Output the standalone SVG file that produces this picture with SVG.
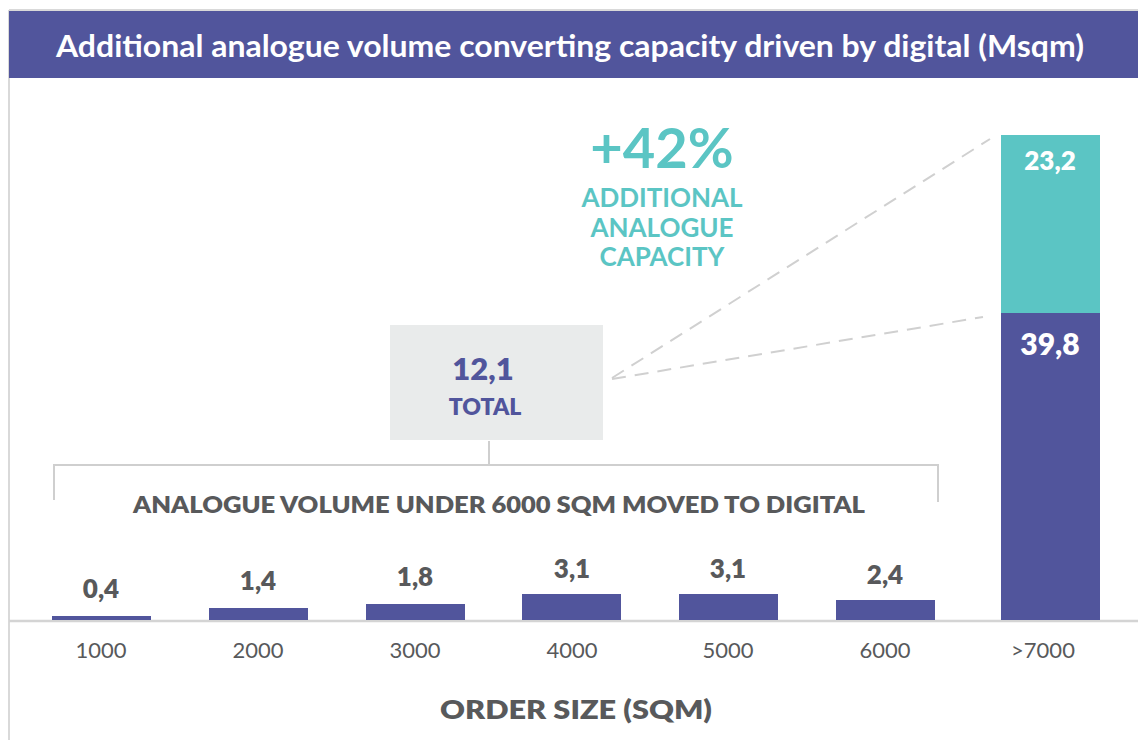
<svg xmlns="http://www.w3.org/2000/svg" width="1138" height="740" viewBox="0 0 1138 740">
<style>
.lbl{font-family:"Lato","Liberation Sans",sans-serif;font-weight:800;fill:#58595b;text-anchor:middle}
.tick{font-family:"Lato","Liberation Sans",sans-serif;font-weight:400;fill:#58595b;text-anchor:middle;font-size:22px}
.teal{font-family:"Lato","Liberation Sans",sans-serif;font-weight:700;fill:#5bc5c4;text-anchor:middle}
.pur{font-family:"Lato","Liberation Sans",sans-serif;font-weight:800;fill:#51559c;text-anchor:middle}
.wht{font-family:"Lato","Liberation Sans",sans-serif;font-weight:800;fill:#ffffff;text-anchor:middle}
.bar{fill:#51559c}
.guide{stroke:#cfcfcf;stroke-width:2;fill:none}
.dash{stroke:#d0d0d0;stroke-width:2;fill:none;stroke-dasharray:14 9}
</style>
<rect x="0" y="0" width="1138" height="740" fill="#ffffff"/>
<line x1="9" y1="10" x2="1138" y2="10" stroke="#d9d9d9" stroke-width="2"/>
<line x1="9" y1="10" x2="9" y2="740" stroke="#d9d9d9" stroke-width="2"/>
<g id="header">
<rect x="9" y="11" width="1129" height="67" fill="#51559c"/>
<text x="570" y="57" font-family="Lato,'Liberation Sans',sans-serif" font-weight="700" font-size="31" fill="#ffffff" text-anchor="middle" textLength="1028" lengthAdjust="spacingAndGlyphs">Additional analogue volume converting capacity driven by digital (Msqm)</text>
</g>
<g id="axis">
<line x1="9" y1="621" x2="1138" y2="621" stroke="#d4d4d4" stroke-width="2.5"/>
</g>
<g id="connectors">
<line class="dash" x1="612" y1="378" x2="990" y2="139"/>
<line class="dash" x1="612" y1="379" x2="983" y2="317"/>
<path class="guide" d="M54 500 V465 H938 V502"/>
<line class="guide" x1="489" y1="441" x2="489" y2="465"/>
</g>
<g id="bar-1000">
<rect class="bar" x="52" y="616" width="99" height="4"/>
<text class="lbl" x="101" y="598" font-size="26">0,4</text>
<text class="tick" x="101" y="658">1000</text>
</g>
<g id="bar-2000">
<rect class="bar" x="209" y="608" width="99" height="12"/>
<text class="lbl" x="258" y="590" font-size="26">1,4</text>
<text class="tick" x="258" y="658">2000</text>
</g>
<g id="bar-3000">
<rect class="bar" x="366" y="604" width="99" height="16"/>
<text class="lbl" x="415" y="586" font-size="26">1,8</text>
<text class="tick" x="415" y="658">3000</text>
</g>
<g id="bar-4000">
<rect class="bar" x="522" y="594" width="99" height="26"/>
<text class="lbl" x="572" y="578" font-size="26">3,1</text>
<text class="tick" x="572" y="658">4000</text>
</g>
<g id="bar-5000">
<rect class="bar" x="679" y="594" width="99" height="26"/>
<text class="lbl" x="728" y="578" font-size="26">3,1</text>
<text class="tick" x="728" y="658">5000</text>
</g>
<g id="bar-6000">
<rect class="bar" x="836" y="600" width="99" height="20"/>
<text class="lbl" x="885" y="584" font-size="26">2,4</text>
<text class="tick" x="885" y="658">6000</text>
</g>
<g id="bar-7000">
<rect x="1001" y="135" width="99" height="179" fill="#5bc5c4"/>
<rect class="bar" x="1001" y="313" width="99" height="307"/>
<text class="wht" x="1050" y="170" font-size="26">23,2</text>
<text class="wht" x="1050" y="355" font-size="30">39,8</text>
<text class="tick" x="1043" y="658">&gt;7000</text>
</g>
<g id="total-box">
<rect x="390" y="325" width="213" height="115" fill="#e9ebeb"/>
<text class="pur" x="483" y="380" font-size="31">12,1</text>
<text class="pur" x="485" y="415" font-size="23" font-weight="700">TOTAL</text>
</g>
<g id="increase-label">
<text class="teal" x="662" y="168" font-size="56">+42%</text>
<text class="teal" x="662" y="207" font-size="26">ADDITIONAL</text>
<text class="teal" x="662" y="237" font-size="26">ANALOGUE</text>
<text class="teal" x="662" y="266" font-size="26">CAPACITY</text>
</g>
<g id="bracket-label">
<text class="lbl" x="499" y="513" font-size="22" font-weight="700" textLength="732" lengthAdjust="spacingAndGlyphs">ANALOGUE VOLUME UNDER 6000 SQM MOVED TO DIGITAL</text>
</g>
<g id="axis-title">
<text class="lbl" x="576" y="719" font-size="26" textLength="272" lengthAdjust="spacingAndGlyphs">ORDER SIZE (SQM)</text>
</g>
</svg>
